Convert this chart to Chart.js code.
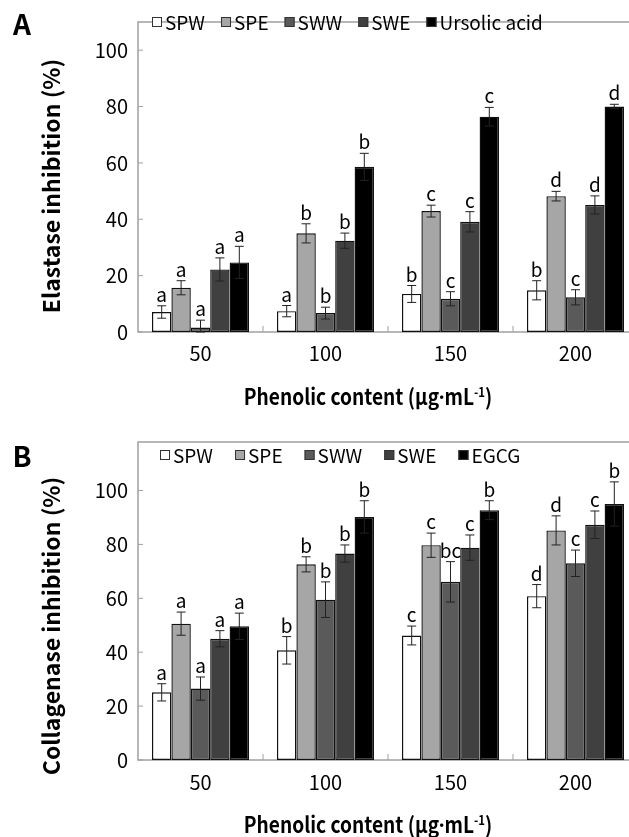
<!DOCTYPE html>
<html><head><meta charset="utf-8">
<script src="https://cdn.jsdelivr.net/npm/chart.js@4.4.1/dist/chart.umd.min.js"></script>
<style>
html,body{margin:0;padding:0;background:#fff;}
body{width:629px;height:837px;overflow:hidden;position:relative;font-family:'Noto Sans CJK KR','Noto Sans',sans-serif;color:#000;}
canvas{position:absolute;left:0;}
#cA{top:0;} #cB{top:420px;}
.lbl{position:absolute;white-space:nowrap;transform:translate(-50%,-50%);line-height:1;font-weight:bold;}
.rot{transform:translate(-50%,-50%) rotate(-90deg);}
.xt{transform:translate(-50%,-50%) scaleX(0.87);}
.dot{font-family:'Noto Sans','DejaVu Sans',sans-serif;}
sup{font-size:0.6em;vertical-align:0.6em;}
</style></head><body>
<canvas id="cA" width="660" height="420"></canvas>
<canvas id="cB" width="660" height="417"></canvas>
<div class="lbl" style="left:22px;top:23px;font-size:28px">A</div>
<div class="lbl" style="left:22px;top:455px;font-size:28px">B</div>
<div class="lbl rot" style="left:50px;top:186px;font-size:23px">Elastase inhibition (%)</div>
<div class="lbl rot" style="left:50px;top:626px;font-size:23px">Collagenase inhibition (%)</div>
<div class="lbl xt" style="left:368px;top:395px;font-size:22px">Phenolic content (μg<span class="dot">·</span>mL<sup>-1</sup>)</div>
<div class="lbl xt" style="left:368px;top:823px;font-size:22px">Phenolic content (μg<span class="dot">·</span>mL<sup>-1</sup>)</div>
<script>
// ---- data ----
const categories = ['50', '100', '150', '200'];
const seriesNamesA = ['SPW', 'SPE', 'SWW', 'SWE', 'Ursolic acid'];
const seriesNamesB = ['SPW', 'SPE', 'SWW', 'SWE', 'EGCG'];
const yTicks = [0, 20, 40, 60, 80, 100];

// Panel A: elastase inhibition (%)
const elastaseSPW = [7.1, 7.4, 13.5, 14.8];
const elastaseSPWErr = [2.2, 2.0, 3.0, 3.4];
const elastaseSPWSig = ['a', 'a', 'b', 'b'];
const elastaseSPE = [15.7, 35.0, 42.9, 48.2];
const elastaseSPEErr = [2.5, 3.4, 2.1, 1.7];
const elastaseSPESig = ['a', 'b', 'c', 'd'];
const elastaseSWW = [1.6, 6.7, 11.8, 12.3];
const elastaseSWWErr = [2.6, 2.1, 2.5, 2.7];
const elastaseSWWSig = ['a', 'b', 'c', 'c'];
const elastaseSWE = [22.2, 32.4, 39.1, 45.1];
const elastaseSWEErr = [4.1, 2.7, 3.6, 3.2];
const elastaseSWESig = ['a', 'b', 'c', 'd'];
const elastaseUrsolic = [24.7, 58.6, 76.4, 80.0];
const elastaseUrsolicErr = [5.7, 4.8, 3.3, 0.8];
const elastaseUrsolicSig = ['a', 'b', 'c', 'd'];

// Panel B: collagenase inhibition (%)
const collagenaseSPW = [25.1, 40.7, 46.2, 60.8];
const collagenaseSPWErr = [3.2, 5.1, 3.5, 4.3];
const collagenaseSPWSig = ['a', 'b', 'c', 'd'];
const collagenaseSPE = [50.6, 72.6, 79.7, 85.2];
const collagenaseSPEErr = [4.3, 2.8, 4.5, 5.4];
const collagenaseSPESig = ['a', 'b', 'c', 'd'];
const collagenaseSWW = [26.5, 59.5, 66.1, 73.0];
const collagenaseSWWErr = [4.3, 6.6, 7.5, 4.9];
const collagenaseSWWSig = ['a', 'b', 'bc', 'c'];
const collagenaseSWE = [45.0, 76.6, 78.8, 87.3];
const collagenaseSWEErr = [3.0, 3.2, 4.7, 5.1];
const collagenaseSWESig = ['a', 'b', 'c', 'c'];
const collagenaseEGCG = [49.6, 90.2, 92.7, 95.0];
const collagenaseEGCGErr = [4.9, 6.0, 3.5, 8.2];
const collagenaseEGCGSig = ['a', 'b', 'b', 'b'];

// ---- styling ----
const FONT = "'Noto Sans CJK KR','Noto Sans',sans-serif";
const fills = ['#ffffff', '#a6a6a6', '#5a5a5a', '#404040', '#000000'];
const frameColor = '#a0a0a0';

function makeDatasets(names, values, errs, sigs) {
  return names.map((n, i) => ({
    label: n,
    data: values[i],
    errors: errs[i],
    sig: sigs[i],
    backgroundColor: fills[i],
    borderColor: '#111',
    borderWidth: 1.4,
    borderSkipped: false,
    categoryPercentage: 0.776,
    barPercentage: 1.0
  }));
}

const framePlugin = {
  id: 'frame',
  beforeDatasetsDraw(chart) {
    const {ctx, chartArea: a, scales} = chart;
    ctx.save();
    ctx.strokeStyle = frameColor;
    ctx.lineWidth = 1.5;
    ctx.strokeRect(a.left, a.top, a.right - a.left, a.bottom - a.top);
    ctx.lineWidth = 1;
    yTicks.forEach(v => {
      const py = scales.y.getPixelForValue(v);
      ctx.beginPath(); ctx.moveTo(a.left, py); ctx.lineTo(a.left + 5, py); ctx.stroke();
    });
    const n = categories.length;
    for (let i = 1; i < n; i++) {
      const px = (scales.x.getPixelForValue(i - 1) + scales.x.getPixelForValue(i)) / 2;
      ctx.beginPath(); ctx.moveTo(px, a.bottom); ctx.lineTo(px, a.bottom - 6); ctx.stroke();
    }
    ctx.restore();
  }
};

const errPlugin = {
  id: 'errbars',
  afterDatasetsDraw(chart) {
    const {ctx, scales} = chart;
    ctx.save();
    chart.data.datasets.forEach((ds, di) => {
      const meta = chart.getDatasetMeta(di);
      meta.data.forEach((bar, i) => {
        const v = ds.data[i], e = ds.errors[i];
        const x = bar.x;
        const yt = scales.y.getPixelForValue(v + e);
        const yb = scales.y.getPixelForValue(Math.max(v - e, 0));
        ctx.strokeStyle = '#222';
        ctx.lineWidth = 1;
        ctx.beginPath();
        ctx.moveTo(x, yt); ctx.lineTo(x, yb);
        ctx.moveTo(x - 4.5, yt); ctx.lineTo(x + 4.5, yt);
        ctx.moveTo(x - 4.5, yb); ctx.lineTo(x + 4.5, yb);
        ctx.stroke();
        ctx.fillStyle = '#000';
        ctx.font = '19px ' + FONT;
        ctx.textAlign = 'center';
        ctx.textBaseline = 'alphabetic';
        ctx.fillText(ds.sig[i], x, yt - 4);
      });
    });
    ctx.restore();
  }
};

const legendPlugin = {
  id: 'inlegend',
  afterDraw(chart, args, opts) {
    const {ctx} = chart;
    ctx.save();
    ctx.font = '19px ' + FONT;
    ctx.textBaseline = 'middle';
    ctx.textAlign = 'left';
    let x = opts.x;
    const y = opts.y;
    chart.data.datasets.forEach(ds => {
      ctx.fillStyle = ds.backgroundColor;
      ctx.fillRect(x, y - 5, 10, 10);
      ctx.strokeStyle = '#333';
      ctx.lineWidth = 1;
      ctx.strokeRect(x + 0.5, y - 4.5, 9, 9);
      ctx.fillStyle = '#000';
      ctx.fillText(ds.label, x + 13, y + 1);
      x += 13 + ctx.measureText(ds.label).width + opts.gap;
    });
    ctx.restore();
  }
};

function makeChart(id, datasets, yMax, padTop, xHeight, legendOpts, labelPad) {
  return new Chart(document.getElementById(id), {
    type: 'bar',
    data: {labels: categories, datasets},
    plugins: [framePlugin, errPlugin, legendPlugin],
    options: {
      responsive: false,
      animation: false,
      devicePixelRatio: 1,
      layout: {padding: {top: padTop, right: 22, left: 0, bottom: 0}},
      plugins: {
        legend: {display: false},
        tooltip: {enabled: false},
        inlegend: legendOpts
      },
      scales: {
        x: {
          grid: {display: false, drawTicks: false},
          border: {display: false},
          ticks: {color: '#000', font: {family: FONT, size: 20}, padding: labelPad},
          afterFit: s => { s.height = xHeight; }
        },
        y: {
          min: 0, max: yMax,
          grid: {display: false, drawTicks: false},
          border: {display: false},
          ticks: {
            stepSize: 20, color: '#000', font: {family: FONT, size: 20}, padding: 10,
            callback: v => (yTicks.includes(v) ? v : '')
          },
          afterFit: s => { s.width = 138; }
        }
      }
    }
  });
}

makeChart('cA', makeDatasets(seriesNamesA,
  [elastaseSPW, elastaseSPE, elastaseSWW, elastaseSWE, elastaseUrsolic],
  [elastaseSPWErr, elastaseSPEErr, elastaseSWWErr, elastaseSWEErr, elastaseUrsolicErr],
  [elastaseSPWSig, elastaseSPESig, elastaseSWWSig, elastaseSWESig, elastaseUrsolicSig]),
  110, 3, 88, {x: 152, y: 22, gap: 16}, 9);

makeChart('cB', makeDatasets(seriesNamesB,
  [collagenaseSPW, collagenaseSPE, collagenaseSWW, collagenaseSWE, collagenaseEGCG],
  [collagenaseSPWErr, collagenaseSPEErr, collagenaseSWWErr, collagenaseSWEErr, collagenaseEGCGErr],
  [collagenaseSPWSig, collagenaseSPESig, collagenaseSWWSig, collagenaseSWESig, collagenaseEGCGSig]),
  118, 17, 77, {x: 160, y: 35, gap: 22}, 10);
</script>
</body></html>
